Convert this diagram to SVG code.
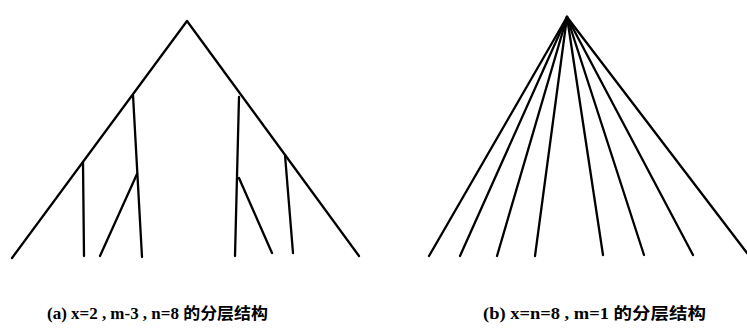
<svg xmlns="http://www.w3.org/2000/svg" width="747" height="328" viewBox="0 0 747 328">
<style>
.e{stroke:#000;stroke-width:2.3;fill:none;stroke-linecap:round;stroke-linejoin:round}
.t{font-family:"Liberation Serif","Noto Sans CJK SC",serif;font-size:16px;font-weight:bold;fill:#000}
</style>
<rect width="747" height="328" fill="#fff"/>
<g id="tree-a-connectors">
<path class="e" d="M12 258 L187 21 L359 256"/>
<path class="e" d="M133 95 L142 257"/>
<path class="e" d="M137 174 L100 256"/>
<path class="e" d="M83 162 L84 256"/>
<path class="e" d="M239 97 L235 256"/>
<path class="e" d="M239 178 L272 253"/>
<path class="e" d="M285 155 L293 253"/>
</g>
<g id="tree-b-connectors">
<path class="e" d="M567 17 L429 256"/>
<path class="e" d="M567 17 L460 256"/>
<path class="e" d="M567 17 L497 256"/>
<path class="e" d="M567 17 L535 256"/>
<path class="e" d="M567 17 L603 255"/>
<path class="e" d="M567 17 L644 255"/>
<path class="e" d="M567 17 L693 255"/>
<path class="e" d="M567 17 L747 253"/>
</g>
<g id="caption-a"><text class="t" x="47" y="319" textLength="221" lengthAdjust="spacingAndGlyphs">(a) x=2 , m-3 , n=8 的分层结构</text></g>
<g id="caption-b"><text class="t" x="483" y="319" textLength="223" lengthAdjust="spacingAndGlyphs">(b) x=n=8 , m=1 的分层结构</text></g>
</svg>
